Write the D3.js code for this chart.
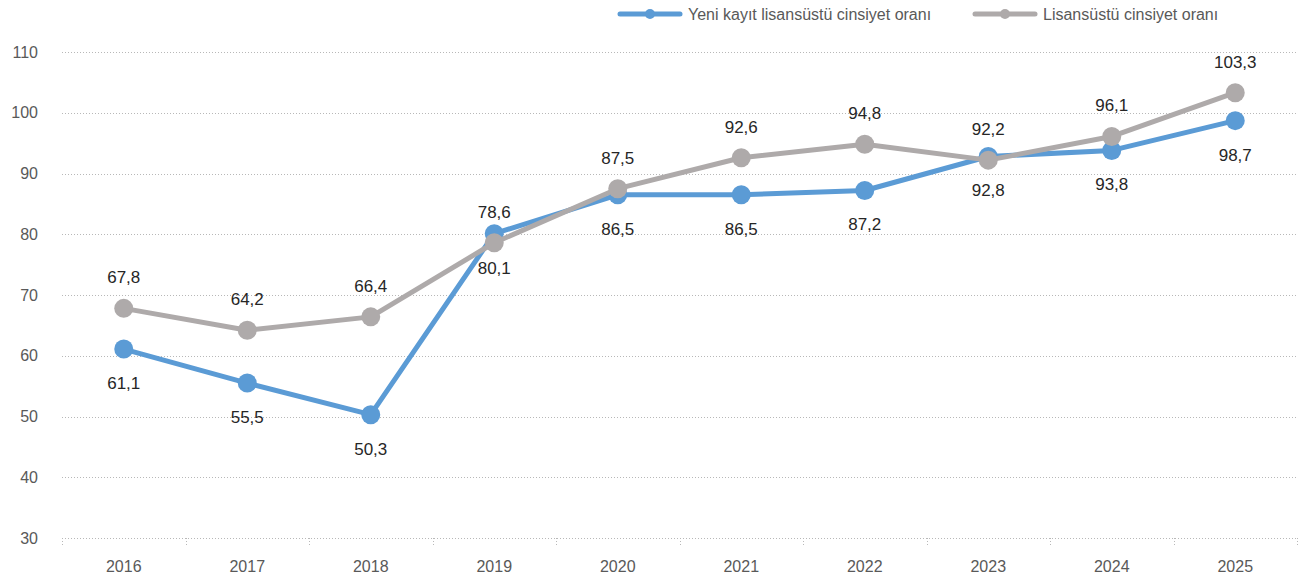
<!DOCTYPE html>
<html>
<head>
<meta charset="utf-8">
<script src="https://cdn.jsdelivr.net/npm/d3@7"></script>
<style>
  body { margin: 0; background: #fff; }
  text { font-family: "Liberation Sans Narrow", "Arial Narrow", "Liberation Sans", Arial, sans-serif; }
</style>
</head>
<body>
<div id="chart"></div>
<script>
// Gender ratio chart, two series

var years = ["2016", "2017", "2018", "2019", "2020", "2021", "2022", "2023", "2024", "2025"];
var yeniKayit = [61.1, 55.5, 50.3, 80.1, 86.5, 86.5, 87.2, 92.8, 93.8, 98.7];
var lisansustu = [67.8, 64.2, 66.4, 78.6, 87.5, 92.6, 94.8, 92.2, 96.1, 103.3];
var yTicks = [30, 40, 50, 60, 70, 80, 90, 100, 110];
var seriesNames = ["Yeni kayıt lisansüstü cinsiyet oranı", "Lisansüstü cinsiyet oranı"];

var w = 1300, h = 583;
var mLeft = 62, mRight = 1297, mTop = 52, mBottom = 538;

var svg = d3.select("#chart").append("svg")
  .attr("width", w)
  .attr("height", h);

var x = d3.scaleBand()
  .domain(years)
  .range([mLeft, mRight]);

var y = d3.scaleLinear()
  .domain([30, 110])
  .range([mBottom, mTop]);

// gridlines
svg.append("g")
  .selectAll("line")
  .data(yTicks)
.enter().append("line")
  .attr("x1", mLeft)
  .attr("x2", mRight)
  .attr("y1", function(d) { return Math.round(y(d)) + 0.5; })
  .attr("y2", function(d) { return Math.round(y(d)) + 0.5; })
  .style("stroke", "#b8b8b8")
  .style("stroke-width", 1)
  .style("stroke-dasharray", "1,2");

// y labels
svg.append("g")
  .selectAll("text")
  .data(yTicks)
.enter().append("text")
  .attr("x", 38)
  .attr("y", function(d) { return y(d); })
  .attr("dy", ".35em")
  .attr("text-anchor", "end")
  .style("font-size", "16px")
  .style("fill", "#595959")
  .text(String);

// x ticks at band edges
var edges = years.map(function(d) { return x(d); }).concat([mRight]);
svg.append("g")
  .selectAll("line")
  .data(edges)
.enter().append("line")
  .attr("x1", function(d) { return Math.round(d) + 0.5; })
  .attr("x2", function(d) { return Math.round(d) + 0.5; })
  .attr("y1", mBottom)
  .attr("y2", mBottom + 8)
  .style("stroke", "#b8b8b8")
  .style("stroke-dasharray", "1,2");

// x labels
svg.append("g")
  .selectAll("text")
  .data(years)
.enter().append("text")
  .attr("x", function(d) { return x(d) + x.bandwidth() / 2; })
  .attr("y", 566)
  .attr("dy", ".35em")
  .attr("text-anchor", "middle")
  .style("font-size", "16px")
  .style("fill", "#595959")
  .text(String);

var line = d3.line()
  .x(function(d, i) { return x(years[i]) + x.bandwidth() / 2; })
  .y(function(d) { return y(d); });

var series = [
  { name: seriesNames[0], values: yeniKayit, color: "#5b9bd5", dy: 34 },
  { name: seriesNames[1], values: lisansustu, color: "#aeaaaa", dy: -31 }
];

var gs = svg.selectAll(".series")
  .data(series)
.enter().append("g")
  .attr("class", "series");

gs.append("path")
  .attr("d", function(d) { return line(d.values); })
  .style("fill", "none")
  .style("stroke", function(d) { return d.color; })
  .style("stroke-width", 5)
  .style("stroke-linejoin", "round");

gs.each(function(s) {
  d3.select(this).selectAll("circle")
    .data(s.values)
  .enter().append("circle")
    .attr("cx", function(d, i) { return x(years[i]) + x.bandwidth() / 2; })
    .attr("cy", function(d) { return y(d); })
    .attr("r", 9.5)
    .style("fill", s.color);
});

// data labels
gs.each(function(s) {
  d3.select(this).selectAll("text")
    .data(s.values)
  .enter().append("text")
    .attr("x", function(d, i) { return x(years[i]) + x.bandwidth() / 2; })
    .attr("y", function(d) { return y(d) + s.dy; })
    .attr("dy", ".35em")
    .attr("text-anchor", "middle")
    .style("font-size", "17px")
    .style("fill", "#262626")
    .text(function(d) { return d3.format(".1f")(d).replace(".", ","); });
});

// legend
var legendX = [620, 975];
var lg = svg.selectAll(".legend")
  .data(series)
.enter().append("g")
  .attr("class", "legend")
  .attr("transform", function(d, i) { return "translate(" + legendX[i] + ",14)"; });

lg.append("line")
  .attr("x1", 0)
  .attr("x2", 60)
  .style("stroke", function(d) { return d.color; })
  .style("stroke-width", 5)
  .style("stroke-linecap", "round");

lg.append("circle")
  .attr("cx", 30)
  .attr("r", 5)
  .style("fill", function(d) { return d.color; });

lg.append("text")
  .attr("x", 68)
  .attr("dy", ".35em")
  .style("font-size", "16px")
  .style("fill", "#595959")
  .text(function(d) { return d.name; });
</script>
</body>
</html>
